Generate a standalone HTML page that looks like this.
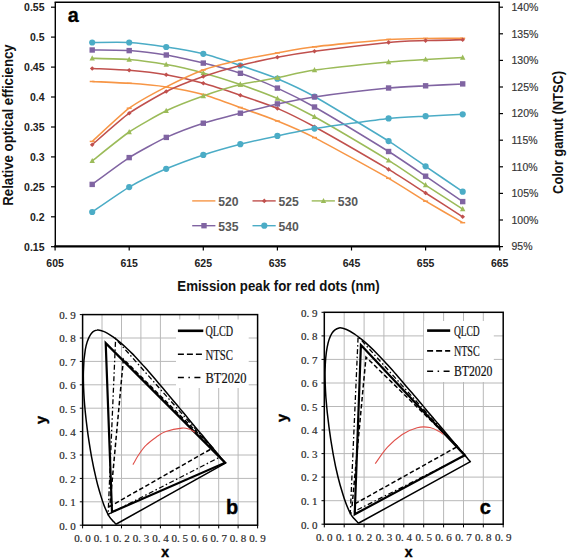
<!DOCTYPE html><html><head><meta charset="utf-8"><style>html,body{margin:0;padding:0;background:#fff;width:567px;height:559px;overflow:hidden}svg{display:block}</style></head><body>
<svg width="567" height="559" viewBox="0 0 567 559">
<rect width="567" height="559" fill="#fff"/>
<g fill="none" stroke="#000">
<path d="M54.6 2.2 H499.9" stroke-width="1.6"/>
<path d="M55.3 2.2 V246.3" stroke-width="1.4"/>
<path d="M499.2 2.2 V246.3" stroke-width="1.4"/>
<path d="M54.3 246.3 H500" stroke-width="2.2"/>
<path d="M51 7.2 H55.3" stroke-width="1.2"/>
<path d="M51 37.1 H55.3" stroke-width="1.2"/>
<path d="M51 67.1 H55.3" stroke-width="1.2"/>
<path d="M51 97 H55.3" stroke-width="1.2"/>
<path d="M51 127 H55.3" stroke-width="1.2"/>
<path d="M51 156.9 H55.3" stroke-width="1.2"/>
<path d="M51 186.8 H55.3" stroke-width="1.2"/>
<path d="M51 216.8 H55.3" stroke-width="1.2"/>
<path d="M51 246.7 H55.3" stroke-width="1.2"/>
<path d="M499.2 7.2 H503" stroke-width="1.2"/>
<path d="M499.2 33.8 H503" stroke-width="1.2"/>
<path d="M499.2 60.4 H503" stroke-width="1.2"/>
<path d="M499.2 87 H503" stroke-width="1.2"/>
<path d="M499.2 113.6 H503" stroke-width="1.2"/>
<path d="M499.2 140.2 H503" stroke-width="1.2"/>
<path d="M499.2 166.8 H503" stroke-width="1.2"/>
<path d="M499.2 193.4 H503" stroke-width="1.2"/>
<path d="M499.2 220 H503" stroke-width="1.2"/>
<path d="M499.2 246.6 H503" stroke-width="1.2"/>
<path d="M55.1 246.3 V250.5" stroke-width="1.2"/>
<path d="M129.2 246.3 V250.5" stroke-width="1.2"/>
<path d="M203.3 246.3 V250.5" stroke-width="1.2"/>
<path d="M277.4 246.3 V250.5" stroke-width="1.2"/>
<path d="M351.5 246.3 V250.5" stroke-width="1.2"/>
<path d="M425.6 246.3 V250.5" stroke-width="1.2"/>
<path d="M499.7 246.3 V250.5" stroke-width="1.2"/>
</g>
<g style="font-family:'Liberation Sans',sans-serif;font-weight:bold;font-size:10.5px" fill="#222" text-anchor="end">
<text x="44.5" y="11">0.55</text>
<text x="44.5" y="40.9">0.5</text>
<text x="44.5" y="70.9">0.45</text>
<text x="44.5" y="100.8">0.4</text>
<text x="44.5" y="130.8">0.35</text>
<text x="44.5" y="160.7">0.3</text>
<text x="44.5" y="190.6">0.25</text>
<text x="44.5" y="220.6">0.2</text>
<text x="44.5" y="250.5">0.15</text>
</g>
<g style="font-family:'Liberation Sans',sans-serif;font-size:10.5px" fill="#333" stroke="#333" stroke-width="0.15">
<text x="511.5" y="11">140%</text>
<text x="511.5" y="37.6">135%</text>
<text x="511.5" y="64.2">130%</text>
<text x="511.5" y="90.8">125%</text>
<text x="511.5" y="117.4">120%</text>
<text x="511.5" y="144">115%</text>
<text x="511.5" y="170.6">110%</text>
<text x="511.5" y="197.2">105%</text>
<text x="511.5" y="223.8">100%</text>
<text x="511.5" y="250.4">95%</text>
</g>
<g style="font-family:'Liberation Sans',sans-serif;font-weight:bold;font-size:10.5px" fill="#222" text-anchor="middle">
<text x="55.1" y="266.5">605</text>
<text x="129.2" y="266.5">615</text>
<text x="203.3" y="266.5">625</text>
<text x="277.4" y="266.5">635</text>
<text x="351.5" y="266.5">645</text>
<text x="425.6" y="266.5">655</text>
<text x="499.7" y="266.5">665</text>
</g>
<text x="177.3" y="291.2" textLength="202.4" lengthAdjust="spacingAndGlyphs" style="font-family:'Liberation Sans',sans-serif;font-weight:bold;font-size:14.6px" fill="#111">Emission peak for red dots (nm)</text>
<text transform="translate(12.6 205.7) rotate(-90)" textLength="161.4" lengthAdjust="spacingAndGlyphs" style="font-family:'Liberation Sans',sans-serif;font-weight:bold;font-size:14.1px" fill="#111">Relative optical efficiency</text>
<text transform="translate(563.2 193.9) rotate(-90)" textLength="123" lengthAdjust="spacingAndGlyphs" style="font-family:'Liberation Sans',sans-serif;font-weight:bold;font-size:14.2px" fill="#111">Color gamut (NTSC)</text>
<text x="67.8" y="21.6" style="font-family:'Liberation Sans',sans-serif;font-weight:bold;font-size:19.8px" fill="#000" stroke="#000" stroke-width="0.3">a</text>
<path d="M92.2 81.5 C95.9 81.7 121.8 82.8 129.2 83.3 C136.6 83.8 158.8 85.8 166.2 86.9 C173.7 88 195.9 92.4 203.3 94.5 C210.7 96.6 232.9 104.8 240.3 107.5 C247.8 110.2 270 118 277.4 121 C284.8 124 303.3 131.9 314.5 137.6 C325.6 143.3 377.4 171.9 388.6 178.3 C399.7 184.7 418.2 196.8 425.6 201.2 C433 205.6 458.9 220.5 462.7 222.7" fill="none" stroke="#F79646" stroke-width="1.55" stroke-linejoin="round"/>
<path d="M89.7 81.5 H94.7" stroke="#F79646" stroke-width="1.5"/>
<path d="M126.7 83.3 H131.7" stroke="#F79646" stroke-width="1.5"/>
<path d="M163.8 86.9 H168.8" stroke="#F79646" stroke-width="1.5"/>
<path d="M200.8 94.5 H205.8" stroke="#F79646" stroke-width="1.5"/>
<path d="M237.8 107.5 H242.8" stroke="#F79646" stroke-width="1.5"/>
<path d="M274.9 121 H279.9" stroke="#F79646" stroke-width="1.5"/>
<path d="M312 137.6 H317" stroke="#F79646" stroke-width="1.5"/>
<path d="M386.1 178.3 H391.1" stroke="#F79646" stroke-width="1.5"/>
<path d="M423.1 201.2 H428.1" stroke="#F79646" stroke-width="1.5"/>
<path d="M460.2 222.7 H465.2" stroke="#F79646" stroke-width="1.5"/>
<path d="M92.2 68.5 C95.9 68.7 121.8 69.7 129.2 70.3 C136.6 70.9 158.8 73.4 166.2 74.7 C173.7 76 195.9 81.2 203.3 83.3 C210.7 85.3 232.9 92.7 240.3 95.2 C247.8 97.7 270 105.2 277.4 108.4 C284.8 111.6 303.3 120.7 314.5 126.8 C325.6 132.9 377.4 162.8 388.6 169.4 C399.7 176 418.2 188.3 425.6 193 C433 197.7 458.9 214.4 462.7 216.8" fill="none" stroke="#C0504D" stroke-width="1.55" stroke-linejoin="round"/>
<path d="M92.2 66.2 L94.5 68.5 L92.2 70.8 L89.9 68.5 Z" fill="#C0504D"/>
<path d="M129.2 68 L131.5 70.3 L129.2 72.6 L126.9 70.3 Z" fill="#C0504D"/>
<path d="M166.2 72.4 L168.6 74.7 L166.2 77 L163.9 74.7 Z" fill="#C0504D"/>
<path d="M203.3 81 L205.6 83.3 L203.3 85.6 L201 83.3 Z" fill="#C0504D"/>
<path d="M240.3 92.9 L242.7 95.2 L240.3 97.5 L238 95.2 Z" fill="#C0504D"/>
<path d="M277.4 106.1 L279.7 108.4 L277.4 110.7 L275.1 108.4 Z" fill="#C0504D"/>
<path d="M314.5 124.5 L316.8 126.8 L314.5 129.1 L312.2 126.8 Z" fill="#C0504D"/>
<path d="M388.6 167.1 L390.9 169.4 L388.6 171.7 L386.2 169.4 Z" fill="#C0504D"/>
<path d="M425.6 190.7 L427.9 193 L425.6 195.3 L423.3 193 Z" fill="#C0504D"/>
<path d="M462.7 214.5 L465 216.8 L462.7 219.1 L460.4 216.8 Z" fill="#C0504D"/>
<path d="M92.2 58.3 C95.9 58.4 121.8 58.9 129.2 59.5 C136.6 60.1 158.8 63.2 166.2 64.5 C173.7 65.8 195.9 70.9 203.3 72.9 C210.7 74.9 232.9 81.9 240.3 84.5 C247.8 87.1 270 95.3 277.4 98.5 C284.8 101.7 303.3 110.6 314.5 116.8 C325.6 123 377.4 153.6 388.6 160.4 C399.7 167.2 418.2 180.2 425.6 185.1 C433 190 458.9 206.7 462.7 209.1" fill="none" stroke="#9BBB59" stroke-width="1.55" stroke-linejoin="round"/>
<path d="M92.2 55.3 L94.9 60.5 L89.5 60.5 Z" fill="#9BBB59"/>
<path d="M129.2 56.5 L131.9 61.7 L126.5 61.7 Z" fill="#9BBB59"/>
<path d="M166.2 61.5 L168.9 66.7 L163.6 66.7 Z" fill="#9BBB59"/>
<path d="M203.3 69.9 L206 75.1 L200.6 75.1 Z" fill="#9BBB59"/>
<path d="M240.3 81.5 L243 86.7 L237.7 86.7 Z" fill="#9BBB59"/>
<path d="M277.4 95.5 L280.1 100.7 L274.7 100.7 Z" fill="#9BBB59"/>
<path d="M314.5 113.8 L317.2 119 L311.8 119 Z" fill="#9BBB59"/>
<path d="M388.6 157.4 L391.2 162.6 L385.9 162.6 Z" fill="#9BBB59"/>
<path d="M425.6 182.1 L428.3 187.3 L422.9 187.3 Z" fill="#9BBB59"/>
<path d="M462.7 206.1 L465.4 211.3 L460 211.3 Z" fill="#9BBB59"/>
<path d="M92.2 50 C95.9 50.1 121.8 50.1 129.2 50.6 C136.6 51.1 158.8 53.8 166.2 55 C173.7 56.2 195.9 61.3 203.3 63.1 C210.7 64.9 232.9 70.8 240.3 73.3 C247.8 75.8 270 84.7 277.4 88.1 C284.8 91.5 303.3 100.7 314.5 107 C325.6 113.3 377.4 144.6 388.6 151.5 C399.7 158.4 418.2 171.2 425.6 176.2 C433 181.2 458.9 199.1 462.7 201.6" fill="none" stroke="#8064A2" stroke-width="1.55" stroke-linejoin="round"/>
<rect x="89.5" y="47.3" width="5.4" height="5.4" fill="#8064A2"/>
<rect x="126.5" y="47.9" width="5.4" height="5.4" fill="#8064A2"/>
<rect x="163.6" y="52.3" width="5.4" height="5.4" fill="#8064A2"/>
<rect x="200.6" y="60.4" width="5.4" height="5.4" fill="#8064A2"/>
<rect x="237.7" y="70.6" width="5.4" height="5.4" fill="#8064A2"/>
<rect x="274.7" y="85.4" width="5.4" height="5.4" fill="#8064A2"/>
<rect x="311.8" y="104.3" width="5.4" height="5.4" fill="#8064A2"/>
<rect x="385.9" y="148.8" width="5.4" height="5.4" fill="#8064A2"/>
<rect x="422.9" y="173.5" width="5.4" height="5.4" fill="#8064A2"/>
<rect x="460" y="198.9" width="5.4" height="5.4" fill="#8064A2"/>
<path d="M92.2 42.5 C95.9 42.5 121.8 42 129.2 42.5 C136.6 43 158.8 45.9 166.2 47 C173.7 48.1 195.9 51.9 203.3 53.8 C210.7 55.6 232.9 63 240.3 65.5 C247.8 68 270 75.6 277.4 78.7 C284.8 81.8 303.3 90.3 314.5 96.5 C325.6 102.7 377.4 134.1 388.6 141.1 C399.7 148.1 418.2 161.2 425.6 166.3 C433 171.4 458.9 189.2 462.7 191.7" fill="none" stroke="#4BACC6" stroke-width="1.55" stroke-linejoin="round"/>
<circle cx="92.2" cy="42.5" r="3.1" fill="#4BACC6"/>
<circle cx="129.2" cy="42.5" r="3.1" fill="#4BACC6"/>
<circle cx="166.2" cy="47" r="3.1" fill="#4BACC6"/>
<circle cx="203.3" cy="53.8" r="3.1" fill="#4BACC6"/>
<circle cx="240.3" cy="65.5" r="3.1" fill="#4BACC6"/>
<circle cx="277.4" cy="78.7" r="3.1" fill="#4BACC6"/>
<circle cx="314.5" cy="96.5" r="3.1" fill="#4BACC6"/>
<circle cx="388.6" cy="141.1" r="3.1" fill="#4BACC6"/>
<circle cx="425.6" cy="166.3" r="3.1" fill="#4BACC6"/>
<circle cx="462.7" cy="191.7" r="3.1" fill="#4BACC6"/>
<path d="M92.2 141.4 C95.9 138.1 121.8 113.7 129.2 108.2 C136.6 102.8 158.8 90.7 166.2 86.9 C173.7 83.1 195.9 72.7 203.3 70 C210.7 67.3 232.9 61.8 240.3 60.1 C247.8 58.4 270 54.2 277.4 52.9 C284.8 51.6 303.3 48.1 314.5 46.8 C325.6 45.4 377.4 40.2 388.6 39.4 C399.7 38.6 418.2 38.5 425.6 38.4 C433 38.3 458.9 38.3 462.7 38.3" fill="none" stroke="#F79646" stroke-width="1.55" stroke-linejoin="round"/>
<path d="M89.7 141.4 H94.7" stroke="#F79646" stroke-width="1.5"/>
<path d="M126.7 108.2 H131.7" stroke="#F79646" stroke-width="1.5"/>
<path d="M163.8 86.9 H168.8" stroke="#F79646" stroke-width="1.5"/>
<path d="M200.8 70 H205.8" stroke="#F79646" stroke-width="1.5"/>
<path d="M237.8 60.1 H242.8" stroke="#F79646" stroke-width="1.5"/>
<path d="M274.9 52.9 H279.9" stroke="#F79646" stroke-width="1.5"/>
<path d="M312 46.8 H317" stroke="#F79646" stroke-width="1.5"/>
<path d="M386.1 39.4 H391.1" stroke="#F79646" stroke-width="1.5"/>
<path d="M423.1 38.4 H428.1" stroke="#F79646" stroke-width="1.5"/>
<path d="M460.2 38.3 H465.2" stroke="#F79646" stroke-width="1.5"/>
<path d="M92.2 144.8 C95.9 141.6 121.8 118.5 129.2 113.2 C136.6 107.9 158.8 95.2 166.2 91.5 C173.7 87.8 195.9 79.1 203.3 76.5 C210.7 73.9 232.9 67.3 240.3 65.4 C247.8 63.5 270 58.7 277.4 57.3 C284.8 55.9 303.3 52.8 314.5 51.3 C325.6 49.8 377.4 43.5 388.6 42.4 C399.7 41.3 418.2 40.9 425.6 40.6 C433 40.3 458.9 39.8 462.7 39.7" fill="none" stroke="#C0504D" stroke-width="1.55" stroke-linejoin="round"/>
<path d="M92.2 142.5 L94.5 144.8 L92.2 147.1 L89.9 144.8 Z" fill="#C0504D"/>
<path d="M129.2 110.9 L131.5 113.2 L129.2 115.5 L126.9 113.2 Z" fill="#C0504D"/>
<path d="M166.2 89.2 L168.6 91.5 L166.2 93.8 L163.9 91.5 Z" fill="#C0504D"/>
<path d="M203.3 74.2 L205.6 76.5 L203.3 78.8 L201 76.5 Z" fill="#C0504D"/>
<path d="M240.3 63.1 L242.7 65.4 L240.3 67.7 L238 65.4 Z" fill="#C0504D"/>
<path d="M277.4 55 L279.7 57.3 L277.4 59.6 L275.1 57.3 Z" fill="#C0504D"/>
<path d="M314.5 49 L316.8 51.3 L314.5 53.6 L312.2 51.3 Z" fill="#C0504D"/>
<path d="M388.6 40.1 L390.9 42.4 L388.6 44.7 L386.2 42.4 Z" fill="#C0504D"/>
<path d="M425.6 38.3 L427.9 40.6 L425.6 42.9 L423.3 40.6 Z" fill="#C0504D"/>
<path d="M462.7 37.4 L465 39.7 L462.7 42 L460.4 39.7 Z" fill="#C0504D"/>
<path d="M92.2 160.9 C95.9 158 121.8 137 129.2 132 C136.6 127 158.8 114.4 166.2 110.8 C173.7 107.2 195.9 98.6 203.3 96 C210.7 93.4 232.9 86.4 240.3 84.6 C247.8 82.8 270 79.2 277.4 77.8 C284.8 76.3 303.3 71.7 314.5 70.1 C325.6 68.5 377.4 63.1 388.6 62 C399.7 60.9 418.2 59.8 425.6 59.4 C433 59 458.9 57.8 462.7 57.6" fill="none" stroke="#9BBB59" stroke-width="1.55" stroke-linejoin="round"/>
<path d="M92.2 157.9 L94.9 163.1 L89.5 163.1 Z" fill="#9BBB59"/>
<path d="M129.2 129 L131.9 134.2 L126.5 134.2 Z" fill="#9BBB59"/>
<path d="M166.2 107.8 L168.9 113 L163.6 113 Z" fill="#9BBB59"/>
<path d="M203.3 93 L206 98.2 L200.6 98.2 Z" fill="#9BBB59"/>
<path d="M240.3 81.6 L243 86.8 L237.7 86.8 Z" fill="#9BBB59"/>
<path d="M277.4 74.8 L280.1 80 L274.7 80 Z" fill="#9BBB59"/>
<path d="M314.5 67.1 L317.2 72.3 L311.8 72.3 Z" fill="#9BBB59"/>
<path d="M388.6 59 L391.2 64.2 L385.9 64.2 Z" fill="#9BBB59"/>
<path d="M425.6 56.4 L428.3 61.6 L422.9 61.6 Z" fill="#9BBB59"/>
<path d="M462.7 54.6 L465.4 59.8 L460 59.8 Z" fill="#9BBB59"/>
<path d="M92.2 184.4 C95.9 181.7 121.8 162.3 129.2 157.6 C136.6 152.9 158.8 140.8 166.2 137.4 C173.7 134 195.9 125.6 203.3 123.2 C210.7 120.8 232.9 115.1 240.3 113.2 C247.8 111.3 270 105.5 277.4 103.9 C284.8 102.3 303.3 98.5 314.5 96.9 C325.6 95.3 377.4 89.1 388.6 88 C399.7 86.9 418.2 86.2 425.6 85.8 C433 85.4 458.9 84.1 462.7 83.9" fill="none" stroke="#8064A2" stroke-width="1.55" stroke-linejoin="round"/>
<rect x="89.5" y="181.7" width="5.4" height="5.4" fill="#8064A2"/>
<rect x="126.5" y="154.9" width="5.4" height="5.4" fill="#8064A2"/>
<rect x="163.6" y="134.7" width="5.4" height="5.4" fill="#8064A2"/>
<rect x="200.6" y="120.5" width="5.4" height="5.4" fill="#8064A2"/>
<rect x="237.7" y="110.5" width="5.4" height="5.4" fill="#8064A2"/>
<rect x="274.7" y="101.2" width="5.4" height="5.4" fill="#8064A2"/>
<rect x="311.8" y="94.2" width="5.4" height="5.4" fill="#8064A2"/>
<rect x="385.9" y="85.3" width="5.4" height="5.4" fill="#8064A2"/>
<rect x="422.9" y="83.1" width="5.4" height="5.4" fill="#8064A2"/>
<rect x="460" y="81.2" width="5.4" height="5.4" fill="#8064A2"/>
<path d="M92.2 212 C95.9 209.5 121.8 191.4 129.2 187.1 C136.6 182.8 158.8 172 166.2 168.8 C173.7 165.6 195.9 157.4 203.3 154.9 C210.7 152.4 232.9 146.1 240.3 144.2 C247.8 142.3 270 137.5 277.4 135.9 C284.8 134.3 303.3 130.3 314.5 128.6 C325.6 126.8 377.4 119.6 388.6 118.4 C399.7 117.2 418.2 116.6 425.6 116.2 C433 115.8 458.9 114.5 462.7 114.3" fill="none" stroke="#4BACC6" stroke-width="1.55" stroke-linejoin="round"/>
<circle cx="92.2" cy="212" r="3.1" fill="#4BACC6"/>
<circle cx="129.2" cy="187.1" r="3.1" fill="#4BACC6"/>
<circle cx="166.2" cy="168.8" r="3.1" fill="#4BACC6"/>
<circle cx="203.3" cy="154.9" r="3.1" fill="#4BACC6"/>
<circle cx="240.3" cy="144.2" r="3.1" fill="#4BACC6"/>
<circle cx="277.4" cy="135.9" r="3.1" fill="#4BACC6"/>
<circle cx="314.5" cy="128.6" r="3.1" fill="#4BACC6"/>
<circle cx="388.6" cy="118.4" r="3.1" fill="#4BACC6"/>
<circle cx="425.6" cy="116.2" r="3.1" fill="#4BACC6"/>
<circle cx="462.7" cy="114.3" r="3.1" fill="#4BACC6"/>
<path d="M192.2 200.9 H215.4" stroke="#F79646" stroke-width="1.4"/>
<text x="218.2" y="205.9" style="font-family:'Liberation Sans',sans-serif;font-weight:bold;font-size:12.2px" fill="#595959">520</text>
<path d="M252.5 200.9 H275.7" stroke="#C0504D" stroke-width="1.4"/>
<path d="M264.3 198.6 L266.6 200.9 L264.3 203.2 L262 200.9 Z" fill="#C0504D"/>
<text x="278.5" y="205.9" style="font-family:'Liberation Sans',sans-serif;font-weight:bold;font-size:12.2px" fill="#595959">525</text>
<path d="M311.7 200.9 H334.9" stroke="#9BBB59" stroke-width="1.4"/>
<path d="M323.5 197.9 L326.2 203.1 L320.8 203.1 Z" fill="#9BBB59"/>
<text x="337.7" y="205.9" style="font-family:'Liberation Sans',sans-serif;font-weight:bold;font-size:12.2px" fill="#595959">530</text>
<path d="M192.2 225.7 H215.4" stroke="#8064A2" stroke-width="1.4"/>
<rect x="201.3" y="223" width="5.4" height="5.4" fill="#8064A2"/>
<text x="218.2" y="230.7" style="font-family:'Liberation Sans',sans-serif;font-weight:bold;font-size:12.2px" fill="#595959">535</text>
<path d="M252.5 225.7 H275.7" stroke="#4BACC6" stroke-width="1.4"/>
<circle cx="264.3" cy="225.7" r="3.1" fill="#4BACC6"/>
<text x="278.5" y="230.7" style="font-family:'Liberation Sans',sans-serif;font-weight:bold;font-size:12.2px" fill="#595959">540</text>
<g stroke="#b8b8b8" stroke-width="1" fill="none">
<path d="M102 314.6 V525.2"/>
<path d="M82.6 501.8 H257.6"/>
<path d="M121.5 314.6 V525.2"/>
<path d="M82.6 478.4 H257.6"/>
<path d="M140.9 314.6 V525.2"/>
<path d="M82.6 455 H257.6"/>
<path d="M160.4 314.6 V525.2"/>
<path d="M82.6 431.6 H257.6"/>
<path d="M179.8 314.6 V525.2"/>
<path d="M82.6 408.2 H257.6"/>
<path d="M199.2 314.6 V525.2"/>
<path d="M82.6 384.8 H257.6"/>
<path d="M218.7 314.6 V525.2"/>
<path d="M82.6 361.4 H257.6"/>
<path d="M238.1 314.6 V525.2"/>
<path d="M82.6 338 H257.6"/>
</g>
<rect x="176" y="319.5" width="72.7" height="68.5" fill="#fff"/>
<g stroke="#000" stroke-width="1" fill="none">
<path d="M82.6 525.2 V528.4"/>
<path d="M79.8 525.2 H82.6"/>
<path d="M102 525.2 V528.4"/>
<path d="M79.8 501.8 H82.6"/>
<path d="M121.5 525.2 V528.4"/>
<path d="M79.8 478.4 H82.6"/>
<path d="M140.9 525.2 V528.4"/>
<path d="M79.8 455 H82.6"/>
<path d="M160.4 525.2 V528.4"/>
<path d="M79.8 431.6 H82.6"/>
<path d="M179.8 525.2 V528.4"/>
<path d="M79.8 408.2 H82.6"/>
<path d="M199.2 525.2 V528.4"/>
<path d="M79.8 384.8 H82.6"/>
<path d="M218.7 525.2 V528.4"/>
<path d="M79.8 361.4 H82.6"/>
<path d="M238.1 525.2 V528.4"/>
<path d="M79.8 338 H82.6"/>
<path d="M257.6 525.2 V528.4"/>
<path d="M79.8 314.6 H82.6"/>
</g>
<rect x="82.6" y="314.6" width="175" height="210.6" fill="none" stroke="#000" stroke-width="1.5"/>
<path d="M116.4 524 C116.4 524 116.4 524.1 116.3 524.1 C116.2 524.1 116.1 524.1 115.9 524 C115.8 523.9 115.7 523.8 115.4 523.6 C115.2 523.4 115 523.1 114.6 522.6 C114.2 522.2 113.7 521.8 113 521.1 C112.4 520.3 111.3 519.1 110.6 518.3 C109.9 517.4 109.6 517 108.9 515.9 C108.3 514.8 107.6 513.5 106.7 511.7 C105.9 509.8 105 507.8 103.9 504.9 C102.8 502 101.7 498.6 100.3 494.1 C99 489.7 97.4 484.6 96 478.2 C94.5 471.9 92.9 464.4 91.4 456.2 C90 447.9 88.4 438.1 87.2 428.6 C86 419.1 84.8 408.7 84.2 399.2 C83.6 389.8 83.2 380.2 83.4 372 C83.5 363.7 84.2 355.8 85.3 349.7 C86.4 343.5 88.2 338.5 90.2 335.2 C92.1 331.9 94.6 330.6 97 330.1 C99.5 329.5 102.2 330.8 104.8 331.9 C107.4 333 110.1 334.9 112.7 336.6 C115.2 338.4 117.7 340.3 120.1 342.3 C122.5 344.3 124.9 346.5 127.2 348.7 C129.6 350.9 131.9 353.3 134.3 355.7 C136.6 358.1 138.9 360.7 141.2 363.2 C143.5 365.8 145.9 368.4 148.2 371 C150.5 373.7 152.8 376.4 155.1 379.1 C157.4 381.8 159.8 384.5 162.1 387.2 C164.4 390 166.7 392.7 168.9 395.4 C171.2 398.1 173.5 400.8 175.7 403.5 C177.9 406.1 180.1 408.8 182.2 411.3 C184.4 413.9 186.5 416.4 188.5 418.9 C190.5 421.3 192.5 423.7 194.4 425.9 C196.3 428.2 198.1 430.4 199.8 432.4 C201.5 434.4 203 436.3 204.5 438 C206 439.8 207.4 441.5 208.6 443 C209.9 444.5 211 445.8 212 447 C213.1 448.3 214 449.4 214.8 450.4 C215.6 451.4 216.4 452.3 217 453.1 C217.7 453.9 218.3 454.5 218.8 455.2 C219.3 455.8 219.6 456.2 220.2 456.9 C220.8 457.6 221.8 458.8 222.4 459.5 C223 460.2 223.4 460.7 223.7 461.1 C224.1 461.5 224.3 461.7 224.5 462 C224.8 462.3 225 462.6 225.2 462.8 C225.3 463 225.4 463.1 225.4 463.1 Z" fill="none" stroke="#000" stroke-width="1.5" stroke-linejoin="round"/>
<path d="M220.2 456.9 L115.6 338.7 L108.1 514.4 Z" fill="none" stroke="#000" stroke-width="1.3" stroke-dasharray="5 2.5 1.5 2.5"/>
<path d="M212.8 448 L123.4 359.1 L109.8 506.5 Z" fill="none" stroke="#000" stroke-width="1.5" stroke-dasharray="4.5 2.5"/>
<path d="M105.7 343.1 L225.1 462.7 L112 512.1 Z" fill="none" stroke="#000" stroke-width="2.2" stroke-linejoin="miter"/>
<path d="M132.9 464.6 C134 462.9 136.8 457.5 139 454.3 C141.2 451.1 143.3 448 146.2 445.2 C149 442.3 152.8 439.5 156.1 437.2 C159.4 435 161.5 433.1 165.8 431.6 C170.1 430.1 178.1 428.5 181.9 428.1 C185.8 427.7 186.8 428.4 188.9 429 C191.1 429.7 194 431.6 195 432.1" fill="none" stroke="#e0504a" stroke-width="1.1"/>
<path d="M177.9 330.8 H203.3" stroke="#000" stroke-width="2.6" />
<text x="205.5" y="336.2" textLength="27.5" lengthAdjust="spacingAndGlyphs" style="font-family:'Liberation Serif',serif;font-size:15.5px" fill="#111" stroke="#111" stroke-width="0.2">QLCD</text>
<path d="M177.9 354.2 H203.3" stroke="#000" stroke-width="1.6" stroke-dasharray="6 3"/>
<text x="205.5" y="359.6" textLength="27.5" lengthAdjust="spacingAndGlyphs" style="font-family:'Liberation Serif',serif;font-size:15.5px" fill="#111" stroke="#111" stroke-width="0.2">NTSC</text>
<path d="M177.9 377.6 H203.3" stroke="#000" stroke-width="1.5" stroke-dasharray="6 4.5 1.5 4.5"/>
<text x="205.5" y="383" textLength="41" lengthAdjust="spacingAndGlyphs" style="font-family:'Liberation Serif',serif;font-size:15.5px" fill="#111" stroke="#111" stroke-width="0.2">BT2020</text>
<g style="font-family:'Liberation Serif',serif;font-size:11px" fill="#2a2a2a" stroke="#2a2a2a" stroke-width="0.2">
<text x="59.2" y="529.5">0. 0</text>
<text x="82.6" y="542.2" text-anchor="middle">0. 0</text>
<text x="59.2" y="506.1">0. 1</text>
<text x="102" y="542.2" text-anchor="middle">0. 1</text>
<text x="59.2" y="482.7">0. 2</text>
<text x="121.5" y="542.2" text-anchor="middle">0. 2</text>
<text x="59.2" y="459.3">0. 3</text>
<text x="140.9" y="542.2" text-anchor="middle">0. 3</text>
<text x="59.2" y="435.9">0. 4</text>
<text x="160.4" y="542.2" text-anchor="middle">0. 4</text>
<text x="59.2" y="412.5">0. 5</text>
<text x="179.8" y="542.2" text-anchor="middle">0. 5</text>
<text x="59.2" y="389.1">0. 6</text>
<text x="199.2" y="542.2" text-anchor="middle">0. 6</text>
<text x="59.2" y="365.7">0. 7</text>
<text x="218.7" y="542.2" text-anchor="middle">0. 7</text>
<text x="59.2" y="342.3">0. 8</text>
<text x="238.1" y="542.2" text-anchor="middle">0. 8</text>
<text x="59.2" y="318.9">0. 9</text>
<text x="257.6" y="542.2" text-anchor="middle">0. 9</text>
</g>
<text x="226" y="514.2" style="font-family:'Liberation Sans',sans-serif;font-weight:bold;font-size:20px" fill="#000" stroke="#000" stroke-width="0.4">b</text>
<text x="165.2" y="556.8" text-anchor="middle" style="font-family:'Liberation Sans',sans-serif;font-weight:bold;font-size:14px" fill="#000" stroke="#000" stroke-width="0.4">x</text>
<text transform="translate(45.5 420) rotate(-90)" text-anchor="middle" style="font-family:'Liberation Sans',sans-serif;font-weight:bold;font-size:14.5px" fill="#000" stroke="#000" stroke-width="0.4">y</text>
<g stroke="#b8b8b8" stroke-width="1" fill="none">
<path d="M344.2 312.3 V524.2"/>
<path d="M324.3 500.7 H503.2"/>
<path d="M364.1 312.3 V524.2"/>
<path d="M324.3 477.1 H503.2"/>
<path d="M383.9 312.3 V524.2"/>
<path d="M324.3 453.6 H503.2"/>
<path d="M403.8 312.3 V524.2"/>
<path d="M324.3 430 H503.2"/>
<path d="M423.7 312.3 V524.2"/>
<path d="M324.3 406.5 H503.2"/>
<path d="M443.6 312.3 V524.2"/>
<path d="M324.3 383 H503.2"/>
<path d="M463.5 312.3 V524.2"/>
<path d="M324.3 359.4 H503.2"/>
<path d="M483.3 312.3 V524.2"/>
<path d="M324.3 335.9 H503.2"/>
</g>
<rect x="424" y="321" width="69.8" height="61" fill="#fff"/>
<g stroke="#000" stroke-width="1" fill="none">
<path d="M324.3 524.2 V527.4"/>
<path d="M321.5 524.2 H324.3"/>
<path d="M344.2 524.2 V527.4"/>
<path d="M321.5 500.7 H324.3"/>
<path d="M364.1 524.2 V527.4"/>
<path d="M321.5 477.1 H324.3"/>
<path d="M383.9 524.2 V527.4"/>
<path d="M321.5 453.6 H324.3"/>
<path d="M403.8 524.2 V527.4"/>
<path d="M321.5 430 H324.3"/>
<path d="M423.7 524.2 V527.4"/>
<path d="M321.5 406.5 H324.3"/>
<path d="M443.6 524.2 V527.4"/>
<path d="M321.5 383 H324.3"/>
<path d="M463.5 524.2 V527.4"/>
<path d="M321.5 359.4 H324.3"/>
<path d="M483.3 524.2 V527.4"/>
<path d="M321.5 335.9 H324.3"/>
<path d="M503.2 524.2 V527.4"/>
<path d="M321.5 312.3 H324.3"/>
</g>
<rect x="324.3" y="312.3" width="178.9" height="211.9" fill="none" stroke="#000" stroke-width="1.5"/>
<path d="M358.9 523 C358.9 523 358.8 523.1 358.8 523.1 C358.7 523.1 358.5 523.1 358.4 523 C358.2 522.9 358.1 522.8 357.9 522.6 C357.6 522.3 357.4 522.1 357 521.6 C356.6 521.2 356.1 520.8 355.4 520 C354.8 519.3 353.6 518.1 352.9 517.2 C352.2 516.3 351.9 515.9 351.2 514.8 C350.6 513.7 349.8 512.4 349 510.6 C348.1 508.8 347.2 506.7 346.1 503.8 C345 500.8 343.8 497.4 342.5 493 C341.1 488.5 339.5 483.3 338 477 C336.4 470.6 334.8 463.1 333.3 454.8 C331.8 446.4 330.2 436.6 329 427.1 C327.7 417.5 326.6 407 325.9 397.5 C325.3 388 324.9 378.4 325.1 370.1 C325.3 361.8 325.9 353.8 327.1 347.6 C328.2 341.4 330 336.3 332 333.1 C334 329.8 336.6 328.5 339.1 327.9 C341.6 327.4 344.3 328.6 347 329.7 C349.7 330.8 352.4 332.7 355.1 334.5 C357.7 336.2 360.2 338.2 362.6 340.2 C365.1 342.2 367.5 344.4 369.9 346.6 C372.4 348.9 374.8 351.3 377.1 353.7 C379.5 356.1 381.9 358.7 384.3 361.2 C386.6 363.8 389 366.4 391.4 369.1 C393.7 371.8 396.1 374.5 398.5 377.2 C400.8 379.9 403.2 382.7 405.5 385.4 C407.9 388.1 410.3 390.9 412.6 393.6 C414.9 396.3 417.2 399.1 419.5 401.7 C421.8 404.4 424 407.1 426.2 409.7 C428.4 412.2 430.5 414.8 432.6 417.2 C434.7 419.7 436.7 422.1 438.6 424.3 C440.6 426.6 442.4 428.8 444.2 430.9 C445.9 432.9 447.4 434.7 448.9 436.5 C450.4 438.3 451.9 440 453.2 441.5 C454.4 443 455.6 444.3 456.7 445.6 C457.7 446.8 458.7 447.9 459.5 448.9 C460.4 450 461.1 450.8 461.8 451.6 C462.4 452.4 463 453.1 463.6 453.7 C464.1 454.4 464.4 454.7 465 455.5 C465.6 456.2 466.6 457.4 467.2 458.1 C467.8 458.8 468.3 459.3 468.6 459.7 C469 460.1 469.2 460.4 469.4 460.6 C469.7 460.9 469.9 461.3 470.1 461.4 C470.3 461.6 470.3 461.7 470.4 461.7 Z" fill="none" stroke="#000" stroke-width="1.5" stroke-linejoin="round"/>
<path d="M465.1 455.5 L358.1 336.6 L350.3 513.4 Z" fill="none" stroke="#000" stroke-width="1.3" stroke-dasharray="5 2.5 1.5 2.5"/>
<path d="M457.5 446.5 L366 357.1 L352.1 505.4 Z" fill="none" stroke="#000" stroke-width="1.5" stroke-dasharray="4.5 2.5"/>
<path d="M360.9 345.1 L464.7 455.2 L354.7 514.3 Z" fill="none" stroke="#000" stroke-width="2.2" stroke-linejoin="miter"/>
<path d="M375.2 463.7 C377.2 461 383 452.1 387.5 447.2 C392 442.4 397.3 437.8 402.2 434.5 C407.2 431.3 412.5 428.9 417.1 427.7 C421.7 426.5 426.2 426.8 429.9 427.5 C433.5 428.1 437 430.3 439.2 431.5 C441.4 432.6 442.4 433.8 443 434.3" fill="none" stroke="#e0504a" stroke-width="1.1"/>
<path d="M427.1 330.6 H450.2" stroke="#000" stroke-width="2.6" />
<text x="453.9" y="335.6" textLength="25.8" lengthAdjust="spacingAndGlyphs" style="font-family:'Liberation Serif',serif;font-size:14.3px" fill="#111" stroke="#111" stroke-width="0.2">QLCD</text>
<path d="M427.1 350.9 H450.2" stroke="#000" stroke-width="1.6" stroke-dasharray="6 3"/>
<text x="453.9" y="355.9" textLength="25.8" lengthAdjust="spacingAndGlyphs" style="font-family:'Liberation Serif',serif;font-size:14.3px" fill="#111" stroke="#111" stroke-width="0.2">NTSC</text>
<path d="M427.1 371.2 H450.2" stroke="#000" stroke-width="1.5" stroke-dasharray="6 4.5 1.5 4.5"/>
<text x="453.9" y="376.2" textLength="38.5" lengthAdjust="spacingAndGlyphs" style="font-family:'Liberation Serif',serif;font-size:14.3px" fill="#111" stroke="#111" stroke-width="0.2">BT2020</text>
<g style="font-family:'Liberation Serif',serif;font-size:11px" fill="#2a2a2a" stroke="#2a2a2a" stroke-width="0.2">
<text x="300.9" y="528.5">0. 0</text>
<text x="324.3" y="541.2" text-anchor="middle">0. 0</text>
<text x="300.9" y="505">0. 1</text>
<text x="344.2" y="541.2" text-anchor="middle">0. 1</text>
<text x="300.9" y="481.4">0. 2</text>
<text x="364.1" y="541.2" text-anchor="middle">0. 2</text>
<text x="300.9" y="457.9">0. 3</text>
<text x="383.9" y="541.2" text-anchor="middle">0. 3</text>
<text x="300.9" y="434.3">0. 4</text>
<text x="403.8" y="541.2" text-anchor="middle">0. 4</text>
<text x="300.9" y="410.8">0. 5</text>
<text x="423.7" y="541.2" text-anchor="middle">0. 5</text>
<text x="300.9" y="387.3">0. 6</text>
<text x="443.6" y="541.2" text-anchor="middle">0. 6</text>
<text x="300.9" y="363.7">0. 7</text>
<text x="463.5" y="541.2" text-anchor="middle">0. 7</text>
<text x="300.9" y="340.2">0. 8</text>
<text x="483.3" y="541.2" text-anchor="middle">0. 8</text>
<text x="300.9" y="316.6">0. 9</text>
<text x="503.2" y="541.2" text-anchor="middle">0. 9</text>
</g>
<text x="479.7" y="514" style="font-family:'Liberation Sans',sans-serif;font-weight:bold;font-size:20px" fill="#000" stroke="#000" stroke-width="0.4">c</text>
<text x="408.7" y="556.8" text-anchor="middle" style="font-family:'Liberation Sans',sans-serif;font-weight:bold;font-size:14px" fill="#000" stroke="#000" stroke-width="0.4">x</text>
<text transform="translate(287 418) rotate(-90)" text-anchor="middle" style="font-family:'Liberation Sans',sans-serif;font-weight:bold;font-size:14.5px" fill="#000" stroke="#000" stroke-width="0.4">y</text>
</svg></body></html>
